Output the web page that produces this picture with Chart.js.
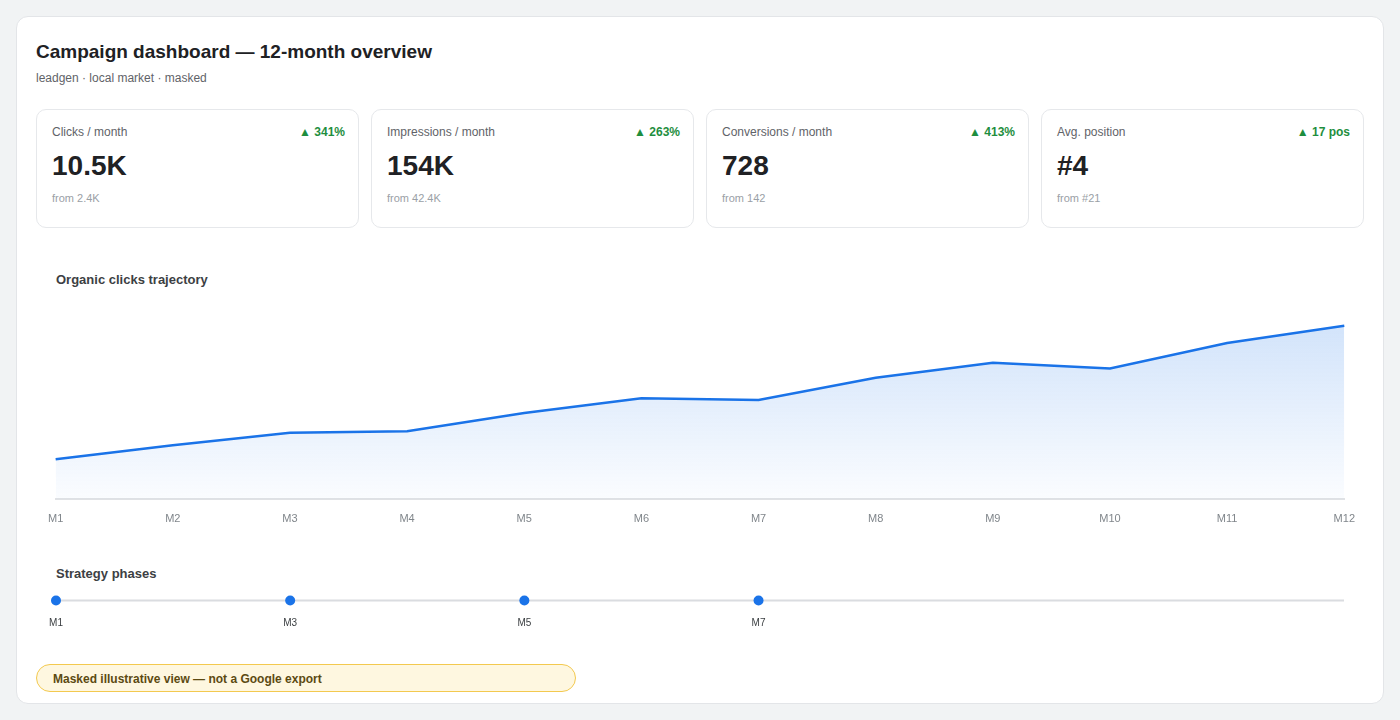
<!DOCTYPE html>
<html>
<head>
<meta charset="utf-8">
<script src="https://cdn.jsdelivr.net/npm/chart.js@4.4.1/dist/chart.umd.min.js"></script>
<style>
  html, body { margin: 0; padding: 0; }
  body { width: 1400px; height: 720px; background: #f1f3f4; font-family: "Liberation Sans", Arial, Helvetica, sans-serif; position: relative; overflow: hidden; }
  .card { position: absolute; left: 16px; top: 16px; width: 1366px; height: 686px; background: #fff; border: 1px solid #e3e5e8; border-radius: 12px; }
  .title { position: absolute; left: 19px; top: 24px; font-size: 19px; font-weight: 700; color: #202124; }
  .sub { position: absolute; left: 19px; top: 54px; font-size: 12px; color: #5f6368; }
  .kpi { position: absolute; top: 92px; width: 321px; height: 117px; border: 1px solid #e6e8eb; border-radius: 10px; background: #fff; }
  .kpi .lab { position: absolute; left: 15px; top: 15px; font-size: 12px; color: #5f6368; }
  .kpi .delta { position: absolute; right: 13px; top: 15px; font-size: 12px; font-weight: 700; color: #1e8e3e; }
  .kpi .val { position: absolute; left: 15px; top: 40px; font-size: 28px; font-weight: 700; color: #202124; }
  .kpi .from { position: absolute; left: 15px; top: 82px; font-size: 11px; color: #9aa0a6; }
  .sec { position: absolute; left: 39px; font-size: 13px; font-weight: 700; color: #3c4043; }
  canvas.abs { position: absolute; display: block; }
  .badge { position: absolute; left: 19px; top: 647px; width: 538px; height: 26px; border: 1px solid #f3c94f; background: #fef7e0; border-radius: 14px; }
  .badge span { position: absolute; left: 16px; top: 7px; font-size: 12px; font-weight: 700; color: #5c4a12; }
</style>
</head>
<body>
<div class="card" id="card">
  <div class="title">Campaign dashboard — 12-month overview</div>
  <div class="sub">leadgen · local market · masked</div>
  <div id="kpis"></div>
  <div class="sec" style="top:255px;">Organic clicks trajectory</div>
  <div class="sec" style="top:549px;">Strategy phases</div>
  <div class="badge"><span>Masked illustrative view — not a Google export</span></div>
</div>
<canvas id="main" class="abs" width="1335" height="255" style="left:34px;top:285px;width:1335px;height:255px;"></canvas>
<canvas id="phases" class="abs" width="1328" height="44" style="left:36px;top:587px;width:1328px;height:44px;"></canvas>
<script>
// ---- data ----
const months = ['M1','M2','M3','M4','M5','M6','M7','M8','M9','M10','M11','M12'];
const organicClicks = [2400, 3250, 4000, 4100, 5200, 6100, 6000, 7350, 8250, 7900, 9450, 10500];
const phaseMonths = ['M1','M3','M5','M7'];

const kpiLabels = ['Clicks / month', 'Impressions / month', 'Conversions / month', 'Avg. position'];
const kpiValues = ['10.5K', '154K', '728', '#4'];
const kpiFrom = ['from 2.4K', 'from 42.4K', 'from 142', 'from #21'];
const kpiDeltas = ['▲ 341%', '▲ 263%', '▲ 413%', '▲ 17 pos'];

// ---- KPI cards ----
const kpiWrap = document.getElementById('kpis');
kpiLabels.forEach((lab, i) => {
  const d = document.createElement('div');
  d.className = 'kpi';
  d.style.left = (19 + i * 335) + 'px';
  d.innerHTML = '<div class="lab"></div><div class="delta"></div><div class="val"></div><div class="from"></div>';
  d.querySelector('.lab').textContent = lab;
  d.querySelector('.delta').textContent = kpiDeltas[i];
  d.querySelector('.val').textContent = kpiValues[i];
  d.querySelector('.from').textContent = kpiFrom[i];
  kpiWrap.appendChild(d);
});

Chart.defaults.font.family = '"Liberation Sans", Arial, sans-serif';

// ---- main line chart ----
const ctx = document.getElementById('main').getContext('2d');
new Chart(ctx, {
  type: 'line',
  data: {
    labels: months,
    datasets: [{
      data: organicClicks,
      borderColor: '#1a73e8',
      borderWidth: 2.5,
      pointRadius: 0,
      tension: 0,
      fill: 'origin',
      backgroundColor: (c) => {
        const area = c.chart.chartArea;
        if (!area) return 'rgba(26,115,232,0.12)';
        const g = c.chart.ctx.createLinearGradient(0, area.top, 0, area.bottom);
        g.addColorStop(0, 'rgba(26,115,232,0.22)');
        g.addColorStop(1, 'rgba(26,115,232,0.02)');
        return g;
      }
    }]
  },
  options: {
    responsive: false,
    animation: false,
    layout: { padding: { left: 0, right: 0, top: 16, bottom: 0 } },
    plugins: { legend: { display: false }, tooltip: { enabled: false } },
    scales: {
      x: {
        offset: false,
        grid: { display: false, drawTicks: false },
        border: { display: true, color: '#e0e2e5', width: 2 },
        ticks: { color: '#80868b', font: { size: 11 }, padding: 14, maxRotation: 0, autoSkip: false }
      },
      y: {
        display: false,
        min: 0,
        max: 12000
      }
    }
  }
});

// ---- strategy phases timeline ----
const ctx2 = document.getElementById('phases').getContext('2d');
new Chart(ctx2, {
  type: 'line',
  data: {
    labels: months,
    datasets: [
      {
        data: phaseMonths.map(m => ({ x: m, y: 0 })),
        showLine: false,
        pointRadius: 5,
        pointBackgroundColor: '#1a73e8',
        pointBorderWidth: 0,
        order: 0
      },
      {
        data: months.map(m => ({ x: m, y: 0 })),
        borderColor: '#dadce0',
        borderWidth: 2,
        pointRadius: 0,
        order: 1
      }
    ]
  },
  options: {
    responsive: false,
    animation: false,
    layout: { padding: { left: 20, right: 20, top: 0, bottom: 0 } },
    plugins: { legend: { display: false }, tooltip: { enabled: false } },
    scales: {
      x: {
        offset: false,
        grid: { display: false, drawTicks: false },
        border: { display: false },
        ticks: {
          color: '#3c4043', font: { size: 10 }, padding: 8, maxRotation: 0, autoSkip: false,
          callback: function (v) { const l = this.getLabelForValue(v); return phaseMonths.includes(l) ? l : ''; }
        }
      },
      y: { display: false, min: -1, max: 1 }
    }
  }
});
</script>
</body>
</html>
